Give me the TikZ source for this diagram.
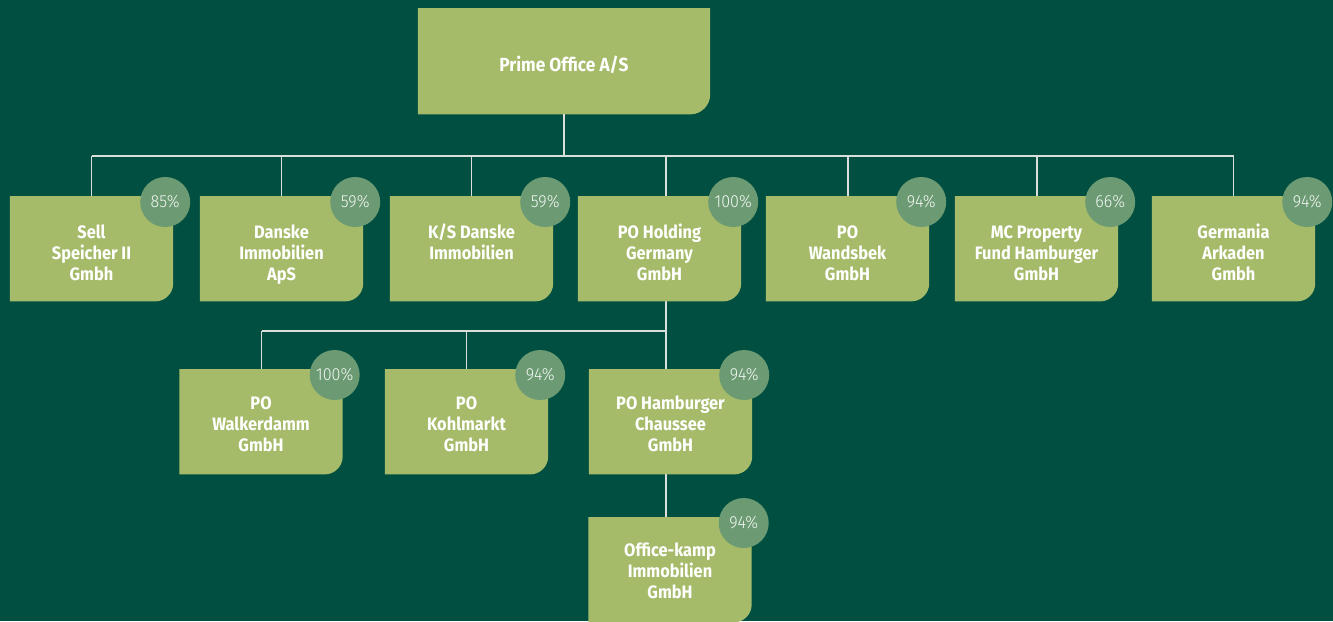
\documentclass[tikz,border=0pt]{standalone}
\usepackage{fontspec}
\newfontfamily\boxfont[FakeStretch=0.91]{Fira Sans}
\newfontfamily\pctfont[FakeStretch=0.92]{Fira Sans Light}
\definecolor{bg}{HTML}{004F40}
\definecolor{boxcol}{HTML}{A5BB6A}
\definecolor{pctcol}{HTML}{6C9B73}
\definecolor{linecol}{HTML}{DADFDC}
\tikzset{
  boxshape/.style={rectangle, inner sep=0pt, draw=none, minimum width=163pt, minimum height=105pt},
  boxtext/.style={text=white, font=\boxfont\bfseries\fontsize{18}{21}\selectfont, align=center, inner sep=0pt},
  toptext/.style={text=white, font=\boxfont\bfseries\fontsize{19}{22}\selectfont, align=center, inner sep=0pt},
  pctnode/.style={circle, fill=pctcol, minimum size=50pt, inner sep=0pt, text=white!92!pctcol, font=\pctfont\fontsize{17.5}{20}\selectfont},
  conn/.style={draw=linecol, line width=1.2pt},
}
\newcommand\obox[7]{%
  \node[boxshape, anchor=north] (#1) at (#2,#3) {};
  \fill[boxcol] (#1.north west) -- (#1.north east) [rounded corners=18pt] -- (#1.south east) [sharp corners] -- (#1.south west) -- cycle;
  \node[boxtext, anchor=north] (#1-t) at ([yshift=-#7pt]#1.north) {\rule{0pt}{15pt}#5};
  \node[pctnode] (#1-p) at ([xshift=-8pt,yshift=-6pt]#1.north east) {#6};
}
\begin{document}
\begin{tikzpicture}[x=1pt,y=-1pt]
\useasboundingbox (0,0) rectangle (1333,621);
\clip (0,0) rectangle (1333,621);
\fill[bg] (0,0) rectangle (1333,621);
% coordinates of buses
\coordinate (bus1) at (0,156);
\coordinate (bus2) at (0,331);
\coordinate (trunk) at (666,0);
% top box
\node[boxshape, minimum width=292pt, minimum height=106pt, anchor=north] (top) at (564,8) {};
\fill[boxcol] (top.north west) -- (top.north east) [rounded corners=20pt] -- (top.south east) [sharp corners] -- (top.south west) -- cycle;
\node[toptext] (top-t) at ([yshift=-4pt]top.center) {Prime Office A/S};
% connectors row 1
\draw[conn] (top.south) -- (top.south |- bus1);
\draw[conn] (91.5,156) coordinate (b1c) -- (1233.5,156) coordinate (b7c);
\foreach \x in {91.5,281.5,471.5,848,1037,1233.5}{\draw[conn] (\x,156) -- (\x,197);}
\draw[conn] (trunk |- bus1) -- (666,197);
% connectors row 2
\draw[conn] (666,300) -- (trunk |- bus2);
\draw[conn] (261.5,331) -- (trunk |- bus2);
\draw[conn] (261.5,331) -- (261.5,370);
\draw[conn] (466.5,331) -- (466.5,370);
\draw[conn] (trunk |- bus2) -- (666,370);
\draw[conn] (666,473) -- (666,518);
% row 1 boxes
\obox{b1}{91.5}{196}{163}{Sell\\Speicher II\\Gmbh}{85\%}{27.5}
\obox{b2}{281.5}{196}{163}{Danske\\Immobilien\\ApS}{59\%}{27.5}
\obox{b3}{471.5}{196}{163}{K/S Danske\\Immobilien}{59\%}{27.5}
\obox{b4}{659.5}{196}{163}{PO Holding\\Germany\\GmbH}{100\%}{27.5}
\obox{b5}{847.5}{196}{163}{PO\\Wandsbek\\GmbH}{94\%}{27.5}
\obox{b6}{1036.5}{196}{163}{MC Property\\Fund Hamburger\\GmbH}{66\%}{27.5}
\obox{b7}{1233.5}{196}{163}{Germania\\Arkaden\\Gmbh}{94\%}{27.5}
% row 2 boxes
\obox{c1}{261}{369}{163}{PO\\Walkerdamm\\GmbH}{100\%}{25.5}
\obox{c2}{466.5}{369}{163}{PO\\Kohlmarkt\\GmbH}{94\%}{25.5}
\obox{c3}{670.5}{369}{163}{PO Hamburger\\Chaussee\\GmbH}{94\%}{25.5}
% row 3
\obox{d1}{670}{517}{163}{Office-kamp\\Immobilien\\GmbH}{94\%}{24}
\end{tikzpicture}
\end{document}
